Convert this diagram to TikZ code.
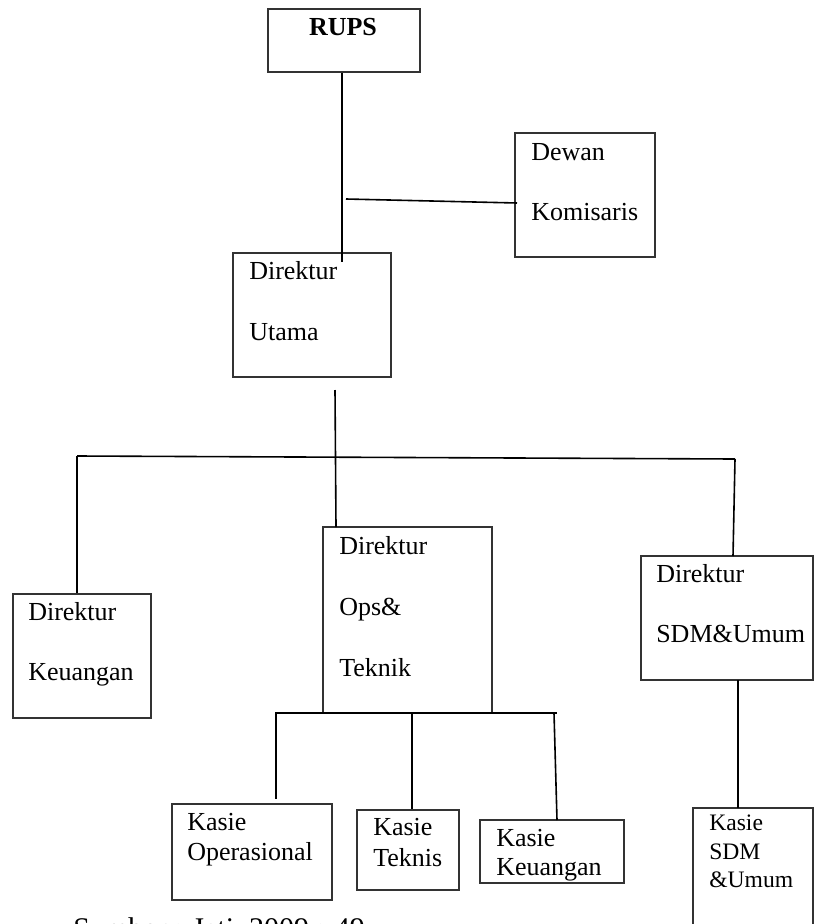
\documentclass[tikz,border=0pt]{standalone}
\usepackage{fontspec}
\setmainfont{Liberation Serif}
\usetikzlibrary{fit}
\newcommand\boxfont{\fontsize{19.5}{24}\selectfont}
\newcommand\smallboxfont{\fontsize{17.7}{22}\selectfont}
\newcommand\capfont{\fontsize{22.5}{27}\selectfont}
\tikzset{
  orgbox/.style={draw=black!80, line width=1pt, inner sep=0pt, fill=none},
  lbl/.style={anchor=base west, inner sep=0pt, font=\boxfont},
  slbl/.style={anchor=base west, inner sep=0pt, font=\smallboxfont},
  conn/.style={draw=black, line width=1.2pt}
}
\begin{document}
\begin{tikzpicture}[x=0.75pt, y=-0.75pt]
\useasboundingbox (0,0) rectangle (814,924);
% boxes
\node[orgbox, fit={(268,9) (420,72)}] (rups) {};
\node[orgbox, fit={(515,133) (655,257)}] (dewan) {};
\node[orgbox, fit={(233,253) (391,377)}] (utama) {};
\node[orgbox, fit={(13,594) (151,718)}] (dkeu) {};
\node[orgbox, fit={(323,527) (492,713)}] (dops) {};
\node[orgbox, fit={(641,556) (813,680)}] (dsdm) {};
\node[orgbox, fit={(172,804) (332,900)}] (kop) {};
\node[orgbox, fit={(357,810) (459,890)}] (ktek) {};
\node[orgbox, fit={(480,820) (624,883)}] (kkeu) {};
\node[orgbox, fit={(693,808) (813,940)}] (ksdm) {};
% texts
\node[anchor=base, inner sep=0pt, font=\boxfont\bfseries] (trups) at (343,36) {RUPS};
\node[lbl] (tdw1) at (531,160) {Dewan};
\node[lbl] (tdw2) at (531,220) {Komisaris};
\node[lbl] (tut1) at (249,279) {Direktur};
\node[lbl] (tut2) at (249,340) {Utama};
\node[lbl] (tke1) at (28,620) {Direktur};
\node[lbl] (tke2) at (28,680) {Keuangan};
\node[lbl] (top1) at (339,554) {Direktur};
\node[lbl] (top2) at (339,615) {Ops\&};
\node[lbl] (top3) at (339,676) {Teknik};
\node[lbl] (tsd1) at (656,582) {Direktur};
\node[lbl] (tsd2) at (656,642) {SDM\&Umum};
\node[lbl] (tko1) at (187,830) {Kasie};
\node[lbl] (tko2) at (187,860) {Operasional};
\node[lbl] (tkt1) at (373,835) {Kasie};
\node[lbl] (tkt2) at (373,866) {Teknis};
\node[lbl] (tkk1) at (496,846) {Kasie};
\node[lbl] (tkk2) at (496,875) {Keuangan};
\node[slbl] (tks1) at (709,830) {Kasie};
\node[slbl] (tks2) at (709,859) {SDM};
\node[slbl] (tks3) at (709,887) {\&Umum};
\node[anchor=base west, inner sep=0pt, font=\capfont] (cap) at (73,938) {Sumber : Jati, 2009 : 49};
% connector points
\coordinate (c1) at (342,262);
\coordinate (c2) at (346,199);
\coordinate (c3) at (517,203);
\coordinate (c4) at (335,390);
\coordinate (c5) at (336,527);
\coordinate (bl) at (77,456);
\coordinate (br) at (735,459);
\coordinate (c6) at (733,556);
\coordinate (obl) at (275,713);
\coordinate (obr) at (557,713);
\coordinate (o1) at (276,713);
\coordinate (o1e) at (276,799);
\coordinate (o2) at (412,713);
\coordinate (o3) at (554,713);
\coordinate (o3e) at (557,820);
\coordinate (s1) at (738,680);
\coordinate (s1e) at (738,808);
% connectors
\draw[conn] (rups.south -| c1) -- (c1);
\draw[conn] (c2) -- (c3);
\draw[conn] (c4) -- (c5);
\draw[conn] (bl) -- (br);
\draw[conn] (bl) -- (bl |- dkeu.north);
\draw[conn] (br) -- (c6);
\draw[conn] (obl) -- (obr);
\draw[conn] (o1) -- (o1e);
\draw[conn] (o2) -- (o2 |- ktek.north);
\draw[conn] (o3) -- (o3e);
\draw[conn] (s1) -- (s1e);
\end{tikzpicture}
\end{document}
